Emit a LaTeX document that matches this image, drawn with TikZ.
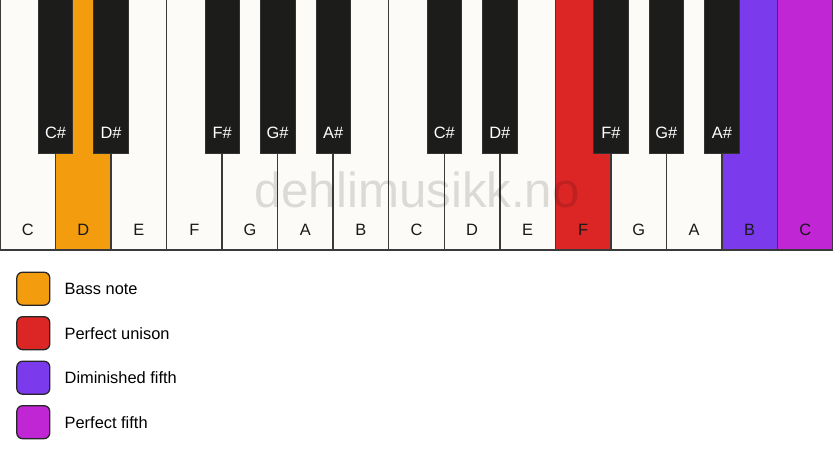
\documentclass[tikz,border=0pt]{standalone}
\usepackage{fontspec}
\setmainfont{Liberation Sans}
\usetikzlibrary{positioning}
\definecolor{PianoWhite}{HTML}{FCFBF8}
\definecolor{PianoBlack}{HTML}{1C1C1B}
\definecolor{PianoEdge}{HTML}{3A3A3A}
\definecolor{PianoBass}{HTML}{F39C0E}
\definecolor{PianoUnison}{HTML}{DC2626}
\definecolor{PianoDim}{HTML}{7C3AED}
\definecolor{PianoFifth}{HTML}{C026D3}

\begin{document}
\begin{tikzpicture}[x=0.03cm,y=-0.03cm,
    keylabel/.style={font=\fontsize{14}{16}\selectfont,text=black!90},
    swatch/.style={draw=black!85,line width=1.1pt,rounded corners=5pt,
      minimum size=0.99cm,inner sep=0pt},
    legendtext/.style={font=\fontsize{14}{16}\selectfont,inner sep=0pt,anchor=west}]
  \useasboundingbox (0,0) rectangle (833,461);
  % white keys
  \foreach \lab/\col [count=\i from 0] in {C/PianoWhite,D/PianoBass,E/PianoWhite,
      F/PianoWhite,G/PianoWhite,A/PianoWhite,B/PianoWhite,C/PianoWhite,D/PianoWhite,
      E/PianoWhite,F/PianoUnison,G/PianoWhite,A/PianoWhite,B/PianoDim,C/PianoFifth} {
    \fill[\col] (\i*55.533,-5) rectangle ++(55.533,255);
    \draw[PianoEdge,line width=1.2pt] (\i*55.533,-5) rectangle ++(55.533,255);
    \node[keylabel] (w\i) at (\i*55.533+27.767,230) {\lab};
  }
  % black keys
  \foreach \k/\lab in {1/C\#,2/D\#,4/F\#,5/G\#,6/A\#,8/C\#,9/D\#,11/F\#,12/G\#,13/A\#} {
    \fill[PianoBlack] (\k*55.533-17.25,-5) rectangle ++(34.5,158);
    \draw[black!80,line width=0.6pt] (\k*55.533-17.25,-5) rectangle ++(34.5,158);
    \node[keylabel,text=white] (b\k) at (\k*55.533,133) {\lab};
  }
  \node[anchor=base,text=black,opacity=0.13,font=\fontsize{42}{48}\selectfont]
    (mark) at (417,208) {dehlimusikk.no};
  % legend
  \foreach \col/\lab [count=\i from 0] in {PianoBass/Bass note,PianoUnison/Perfect unison,
      PianoDim/Diminished fifth,PianoFifth/Perfect fifth} {
    \node[swatch,fill=\col] (s\i) at (33.3,288.7+\i*44.5) {};
    \node[legendtext,right=0.42cm of s\i] (l\i) {\lab};
  }
\end{tikzpicture}
\end{document}
